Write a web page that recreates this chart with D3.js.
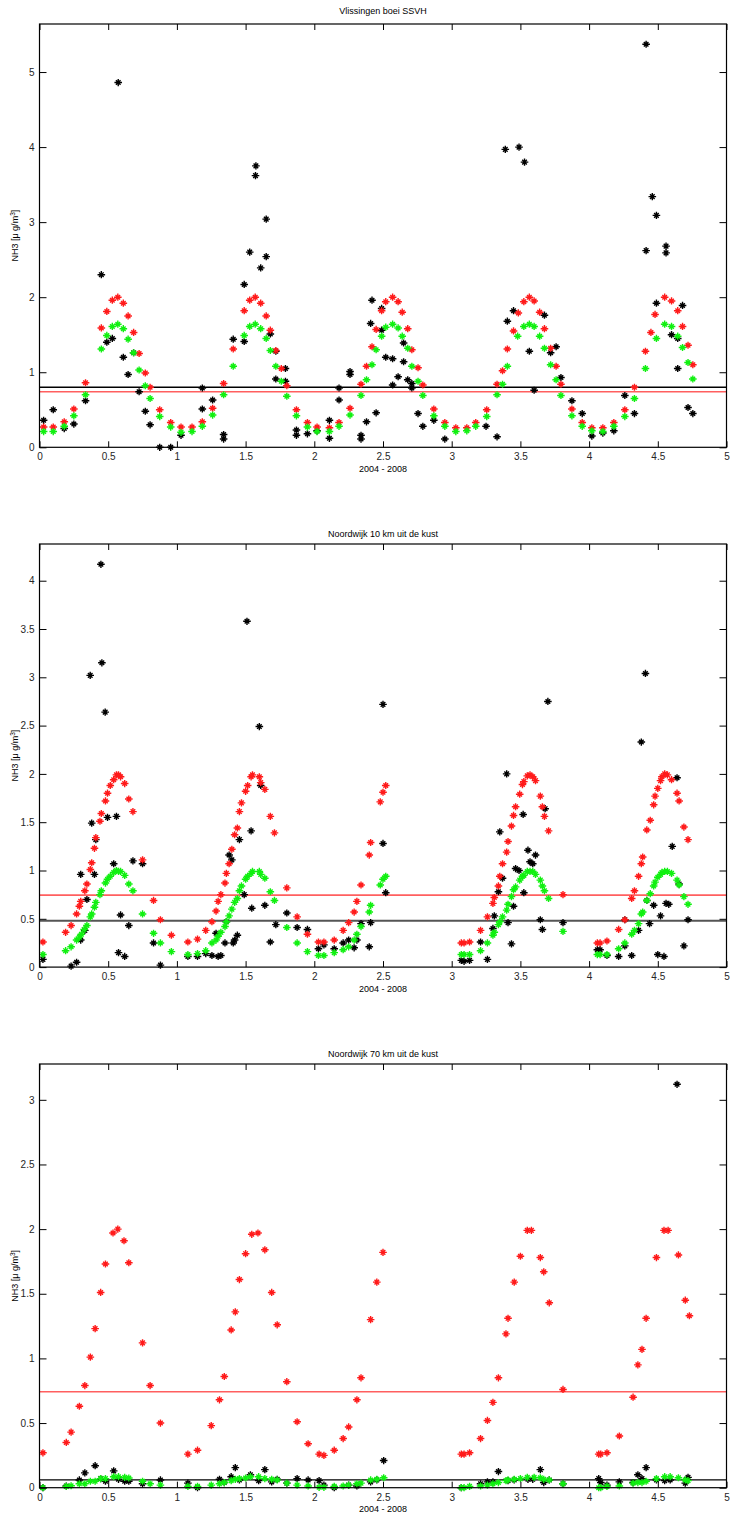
<!DOCTYPE html>
<html><head><meta charset="utf-8">
<script src="https://cdn.jsdelivr.net/npm/d3@7"></script>
<style>body{margin:0;background:#fff}svg{display:block}text{font-family:"Liberation Sans",Arial,sans-serif}</style>
</head><body>
<script>
// ---------- data ----------
const titles = ["Vlissingen boei SSVH", "Noordwijk 10 km uit de kust", "Noordwijk 70 km uit de kust"];
const xLabel = "2004 - 2008";
const xTicks = [0, 0.5, 1, 1.5, 2, 2.5, 3, 3.5, 4, 4.5, 5];
const yTicks1 = [0, 1, 2, 3, 4, 5];
const yTicks2 = [0, 0.5, 1, 1.5, 2, 2.5, 3, 3.5, 4];
const yTicks3 = [0, 0.5, 1, 1.5, 2, 2.5, 3];
const yMax = [5.64, 4.38, 3.277];
const refBlack = [0.80, 0.48, 0.06];
const refRed = [0.74, 0.745, 0.742];

const vlisRed = [[0.03,0.27],[0.10,0.27],[0.18,0.34],[0.25,0.51],[0.335,0.86],[0.45,1.59],[0.49,1.81],[0.53,1.96],[0.57,2.0],[0.61,1.92],[0.645,1.75],[0.685,1.53],[0.725,1.25],[0.77,0.99],[0.805,0.80],[0.875,0.50],[0.955,0.33],[1.03,0.27],[1.11,0.27],[1.185,0.34],[1.26,0.52],[1.34,0.85],[1.41,1.31],[1.49,1.82],[1.53,1.96],[1.57,2.0],[1.61,1.92],[1.65,1.75],[1.68,1.56],[1.72,1.29],[1.76,1.05],[1.80,0.82],[1.87,0.50],[1.95,0.33],[2.02,0.27],[2.11,0.26],[2.18,0.33],[2.26,0.52],[2.34,0.84],[2.38,1.08],[2.42,1.34],[2.45,1.57],[2.49,1.82],[2.52,1.94],[2.57,2.0],[2.61,1.94],[2.64,1.80],[2.68,1.58],[2.71,1.30],[2.755,1.06],[2.79,0.83],[2.87,0.51],[2.95,0.33],[3.03,0.26],[3.11,0.26],[3.175,0.33],[3.255,0.50],[3.33,0.84],[3.37,1.02],[3.405,1.31],[3.45,1.55],[3.485,1.79],[3.525,1.94],[3.565,2.0],[3.60,1.95],[3.64,1.80],[3.675,1.58],[3.72,1.32],[3.76,1.08],[3.795,0.84],[3.875,0.51],[3.95,0.33],[4.02,0.26],[4.10,0.26],[4.18,0.33],[4.26,0.50],[4.33,0.80],[4.41,1.28],[4.45,1.53],[4.48,1.77],[4.55,2.0],[4.60,1.95],[4.645,1.82],[4.68,1.61],[4.72,1.36],[4.755,1.10]];
const vlisGreen = [[0.03,0.21],[0.10,0.21],[0.18,0.28],[0.25,0.42],[0.335,0.70],[0.45,1.31],[0.49,1.49],[0.53,1.61],[0.57,1.64],[0.61,1.58],[0.645,1.44],[0.685,1.26],[0.725,1.03],[0.77,0.82],[0.805,0.65],[0.875,0.41],[0.955,0.27],[1.03,0.20],[1.11,0.21],[1.185,0.28],[1.26,0.43],[1.34,0.70],[1.41,1.08],[1.49,1.49],[1.53,1.61],[1.57,1.64],[1.61,1.58],[1.65,1.45],[1.68,1.29],[1.72,1.08],[1.76,0.88],[1.80,0.68],[1.87,0.42],[1.95,0.27],[2.02,0.21],[2.11,0.21],[2.18,0.28],[2.26,0.43],[2.34,0.69],[2.38,0.90],[2.42,1.10],[2.45,1.30],[2.49,1.48],[2.52,1.60],[2.57,1.64],[2.61,1.59],[2.64,1.48],[2.68,1.32],[2.71,1.08],[2.755,0.88],[2.79,0.69],[2.87,0.42],[2.95,0.28],[3.03,0.21],[3.11,0.22],[3.175,0.28],[3.255,0.41],[3.33,0.70],[3.37,0.84],[3.405,1.08],[3.48,1.48],[3.525,1.61],[3.565,1.64],[3.60,1.61],[3.64,1.48],[3.675,1.32],[3.72,1.10],[3.76,0.90],[3.795,0.69],[3.875,0.42],[3.95,0.28],[4.02,0.22],[4.10,0.21],[4.18,0.28],[4.26,0.41],[4.33,0.65],[4.41,1.05],[4.49,1.45],[4.55,1.64],[4.60,1.61],[4.645,1.48],[4.68,1.33],[4.72,1.13],[4.755,0.91]];
const vlisBlack = [[0.03,0.36],[0.10,0.50],[0.18,0.25],[0.25,0.31],[0.335,0.62],[0.45,2.30],[0.49,1.40],[0.53,1.45],[0.573,4.86],[0.61,1.20],[0.645,0.97],[0.685,1.26],[0.725,0.74],[0.77,0.48],[0.805,0.30],[0.875,0.0],[0.955,0.0],[1.03,0.16],[1.185,0.79],[1.185,0.51],[1.26,0.63],[1.34,0.17],[1.34,0.11],[1.41,1.44],[1.49,1.41],[1.49,2.17],[1.53,2.60],[1.575,3.75],[1.572,3.62],[1.61,2.39],[1.65,2.54],[1.65,3.04],[1.68,1.51],[1.72,1.28],[1.72,0.91],[1.79,0.88],[1.79,1.05],[1.87,0.23],[1.87,0.16],[1.95,0.18],[2.02,0.22],[2.11,0.36],[2.11,0.12],[2.18,0.79],[2.18,0.63],[2.26,1.01],[2.26,0.97],[2.34,0.16],[2.34,0.11],[2.38,0.34],[2.42,1.96],[2.41,1.65],[2.45,0.46],[2.49,1.85],[2.49,1.56],[2.52,1.20],[2.57,1.18],[2.57,0.83],[2.61,0.94],[2.65,1.14],[2.65,1.39],[2.68,0.90],[2.71,0.85],[2.71,0.79],[2.755,0.45],[2.79,0.28],[2.87,0.36],[2.95,0.11],[3.25,0.28],[3.33,0.14],[3.39,3.97],[3.49,4.0],[3.53,3.80],[3.405,1.68],[3.45,1.82],[3.565,1.28],[3.60,0.76],[3.675,1.76],[3.72,1.26],[3.76,1.34],[3.795,0.93],[3.875,0.62],[3.95,0.45],[4.02,0.15],[4.10,0.19],[4.18,0.22],[4.26,0.69],[4.33,0.45],[4.415,2.62],[4.415,5.37],[4.46,3.34],[4.49,3.09],[4.49,1.92],[4.56,2.68],[4.56,2.59],[4.60,1.50],[4.645,1.45],[4.68,1.89],[4.645,1.05],[4.72,0.53],[4.755,0.45]];

const nw10Red = [[0.025,0.26],[0.19,0.36],[0.23,0.43],[0.27,0.55],[0.29,0.63],[0.30,0.68],[0.33,0.79],[0.345,0.86],[0.37,1.01],[0.38,1.08],[0.40,1.23],[0.41,1.34],[0.44,1.51],[0.45,1.59],[0.48,1.72],[0.495,1.80],[0.515,1.88],[0.54,1.94],[0.56,1.99],[0.575,1.99],[0.59,1.97],[0.62,1.90],[0.65,1.74],[0.68,1.61],[0.75,1.11],[0.83,0.69],[0.88,0.49],[0.96,0.33],[1.08,0.26],[1.15,0.29],[1.21,0.38],[1.255,0.47],[1.285,0.58],[1.30,0.68],[1.32,0.75],[1.35,0.87],[1.36,0.97],[1.38,1.07],[1.40,1.22],[1.42,1.37],[1.44,1.44],[1.455,1.61],[1.47,1.70],[1.50,1.82],[1.515,1.88],[1.54,1.97],[1.55,1.99],[1.60,1.97],[1.61,1.91],[1.64,1.84],[1.68,1.56],[1.71,1.39],[1.80,0.82],[1.875,0.52],[1.95,0.34],[2.03,0.26],[2.07,0.26],[2.145,0.28],[2.21,0.38],[2.25,0.46],[2.29,0.57],[2.31,0.68],[2.34,0.85],[2.40,1.16],[2.41,1.29],[2.48,1.71],[2.50,1.81],[2.52,1.88],[3.07,0.25],[3.09,0.25],[3.13,0.26],[3.21,0.38],[3.26,0.52],[3.30,0.66],[3.31,0.72],[3.34,0.84],[3.35,0.94],[3.37,1.07],[3.40,1.19],[3.41,1.30],[3.435,1.46],[3.45,1.57],[3.465,1.66],[3.495,1.79],[3.515,1.89],[3.525,1.92],[3.55,1.98],[3.57,1.99],[3.59,1.97],[3.61,1.93],[3.645,1.77],[3.66,1.66],[3.675,1.56],[3.705,1.41],[3.81,0.75],[4.06,0.25],[4.08,0.25],[4.13,0.27],[4.215,0.39],[4.26,0.49],[4.31,0.71],[4.33,0.79],[4.36,0.94],[4.38,1.07],[4.39,1.14],[4.42,1.42],[4.445,1.52],[4.47,1.68],[4.48,1.77],[4.50,1.85],[4.52,1.93],[4.53,1.97],[4.55,2.0],[4.57,1.99],[4.60,1.94],[4.64,1.80],[4.655,1.72],[4.69,1.45],[4.72,1.32]];
const nw10Green = [[0.025,0.13],[0.19,0.17],[0.23,0.21],[0.27,0.28],[0.29,0.31],[0.305,0.34],[0.325,0.39],[0.345,0.43],[0.37,0.52],[0.38,0.55],[0.40,0.62],[0.41,0.67],[0.44,0.75],[0.45,0.79],[0.48,0.87],[0.495,0.91],[0.515,0.94],[0.54,0.98],[0.56,1.0],[0.575,0.99],[0.59,0.99],[0.62,0.95],[0.65,0.86],[0.68,0.79],[0.75,0.55],[0.83,0.35],[0.88,0.25],[0.96,0.16],[1.08,0.13],[1.15,0.14],[1.21,0.17],[1.255,0.25],[1.285,0.28],[1.30,0.32],[1.32,0.36],[1.35,0.42],[1.36,0.47],[1.38,0.53],[1.40,0.60],[1.42,0.67],[1.44,0.71],[1.455,0.79],[1.47,0.84],[1.50,0.91],[1.515,0.94],[1.54,0.97],[1.55,0.99],[1.60,0.99],[1.61,0.96],[1.64,0.92],[1.68,0.78],[1.71,0.69],[1.80,0.41],[1.875,0.25],[1.95,0.16],[2.03,0.12],[2.07,0.12],[2.145,0.15],[2.21,0.18],[2.25,0.21],[2.29,0.28],[2.31,0.34],[2.34,0.42],[2.40,0.57],[2.41,0.64],[2.48,0.85],[2.50,0.91],[2.52,0.94],[3.07,0.13],[3.09,0.13],[3.13,0.13],[3.21,0.17],[3.26,0.25],[3.30,0.33],[3.31,0.36],[3.34,0.44],[3.35,0.47],[3.37,0.52],[3.40,0.59],[3.41,0.65],[3.435,0.73],[3.45,0.80],[3.465,0.83],[3.495,0.90],[3.515,0.94],[3.525,0.95],[3.55,0.99],[3.57,0.99],[3.59,0.99],[3.61,0.96],[3.645,0.90],[3.66,0.84],[3.675,0.79],[3.705,0.71],[3.81,0.37],[4.06,0.13],[4.08,0.13],[4.13,0.13],[4.215,0.19],[4.26,0.25],[4.31,0.34],[4.33,0.38],[4.36,0.45],[4.38,0.55],[4.39,0.57],[4.42,0.69],[4.445,0.76],[4.47,0.84],[4.48,0.88],[4.50,0.93],[4.52,0.96],[4.53,0.98],[4.55,0.99],[4.57,0.99],[4.60,0.97],[4.64,0.90],[4.655,0.85],[4.69,0.73],[4.72,0.65]];
const nw10Black = [[0.025,0.08],[0.23,0.01],[0.27,0.05],[0.30,0.28],[0.30,0.96],[0.33,0.38],[0.345,0.70],[0.369,3.02],[0.38,1.49],[0.40,0.96],[0.41,1.32],[0.447,4.17],[0.454,3.15],[0.478,2.64],[0.495,1.55],[0.54,1.07],[0.56,1.56],[0.575,0.15],[0.62,0.11],[0.59,0.54],[0.65,0.43],[0.68,1.10],[0.75,1.07],[0.83,0.25],[0.88,0.02],[1.08,0.11],[1.15,0.11],[1.21,0.14],[1.255,0.12],[1.285,0.35],[1.30,0.11],[1.32,0.12],[1.35,0.25],[1.36,0.47],[1.38,1.16],[1.40,1.11],[1.41,0.25],[1.42,0.28],[1.44,0.33],[1.455,1.32],[1.49,0.75],[1.51,3.58],[1.54,1.41],[1.545,0.61],[1.60,2.49],[1.61,1.88],[1.64,0.64],[1.68,0.26],[1.72,0.44],[1.80,0.56],[1.875,0.41],[1.95,0.39],[2.03,0.19],[2.07,0.23],[2.145,0.19],[2.21,0.25],[2.25,0.28],[2.29,0.20],[2.31,0.28],[2.34,0.45],[2.40,0.21],[2.41,0.46],[2.50,1.28],[2.50,2.72],[2.52,0.77],[3.07,0.07],[3.09,0.06],[3.13,0.07],[3.21,0.26],[3.26,0.08],[3.30,0.40],[3.31,0.53],[3.34,0.78],[3.35,1.40],[3.37,0.92],[3.40,2.0],[3.41,0.46],[3.435,0.24],[3.45,0.63],[3.465,1.02],[3.49,1.0],[3.52,1.58],[3.525,0.77],[3.555,1.21],[3.57,1.09],[3.59,1.07],[3.61,1.16],[3.645,0.49],[3.66,0.39],[3.68,1.64],[3.70,2.75],[3.81,0.46],[4.06,0.18],[4.08,0.18],[4.13,0.12],[4.215,0.11],[4.26,0.49],[4.26,0.22],[4.31,0.12],[4.36,0.38],[4.38,2.33],[4.41,3.04],[4.42,0.69],[4.44,0.45],[4.47,0.64],[4.52,0.53],[4.50,0.13],[4.545,0.11],[4.56,0.66],[4.58,0.65],[4.605,1.25],[4.64,1.96],[4.655,0.86],[4.69,0.22],[4.72,0.49]];

const nw70Red = [[0.025,0.27],[0.195,0.35],[0.23,0.43],[0.29,0.63],[0.33,0.79],[0.37,1.01],[0.405,1.23],[0.445,1.51],[0.48,1.73],[0.535,1.97],[0.57,2.0],[0.615,1.91],[0.65,1.74],[0.75,1.12],[0.805,0.79],[0.88,0.50],[1.08,0.26],[1.15,0.29],[1.25,0.48],[1.31,0.68],[1.345,0.86],[1.395,1.22],[1.425,1.36],[1.455,1.61],[1.50,1.81],[1.545,1.96],[1.59,1.97],[1.64,1.84],[1.69,1.51],[1.73,1.26],[1.80,0.82],[1.875,0.51],[1.955,0.34],[2.035,0.26],[2.07,0.25],[2.145,0.29],[2.21,0.38],[2.25,0.47],[2.31,0.68],[2.34,0.85],[2.41,1.30],[2.455,1.59],[2.50,1.82],[3.07,0.26],[3.09,0.26],[3.13,0.27],[3.21,0.38],[3.26,0.52],[3.30,0.66],[3.34,0.85],[3.395,1.19],[3.41,1.31],[3.455,1.59],[3.50,1.79],[3.55,1.99],[3.58,1.99],[3.645,1.78],[3.67,1.67],[3.71,1.43],[3.81,0.76],[4.07,0.26],[4.085,0.26],[4.13,0.27],[4.22,0.40],[4.32,0.70],[4.355,0.95],[4.385,1.07],[4.415,1.31],[4.49,1.78],[4.545,1.99],[4.575,1.99],[4.65,1.80],[4.70,1.45],[4.73,1.33]];
const nw70Green = [[0.025,0.0],[0.195,0.01],[0.23,0.015],[0.29,0.03],[0.33,0.03],[0.37,0.05],[0.405,0.05],[0.445,0.07],[0.48,0.07],[0.54,0.085],[0.575,0.085],[0.62,0.08],[0.65,0.075],[0.75,0.05],[0.805,0.03],[0.88,0.02],[1.08,0.01],[1.15,0.01],[1.25,0.02],[1.31,0.03],[1.345,0.04],[1.395,0.055],[1.425,0.065],[1.455,0.07],[1.50,0.075],[1.535,0.085],[1.595,0.085],[1.64,0.07],[1.69,0.065],[1.73,0.06],[1.80,0.035],[1.875,0.02],[1.955,0.013],[2.035,0.003],[2.07,0.003],[2.145,0.01],[2.21,0.013],[2.25,0.02],[2.31,0.03],[2.34,0.035],[2.41,0.06],[2.455,0.065],[2.505,0.077],[3.07,0.0],[3.09,0.0],[3.13,0.01],[3.21,0.013],[3.26,0.02],[3.30,0.03],[3.34,0.04],[3.395,0.055],[3.41,0.06],[3.455,0.065],[3.50,0.07],[3.55,0.08],[3.60,0.08],[3.645,0.077],[3.67,0.065],[3.71,0.06],[3.81,0.03],[4.07,0.0],[4.085,0.0],[4.13,0.01],[4.22,0.013],[4.32,0.035],[4.355,0.04],[4.385,0.04],[4.415,0.05],[4.49,0.07],[4.55,0.085],[4.59,0.085],[4.65,0.077],[4.70,0.06],[4.72,0.055]];
const nw70Black = [[0.025,0.0],[0.195,0.013],[0.29,0.06],[0.33,0.115],[0.405,0.17],[0.445,0.07],[0.48,0.05],[0.54,0.13],[0.575,0.065],[0.62,0.05],[0.65,0.05],[0.75,0.03],[0.88,0.06],[1.08,0.035],[1.15,0.0],[1.31,0.065],[1.345,0.04],[1.395,0.085],[1.425,0.155],[1.455,0.06],[1.535,0.10],[1.595,0.055],[1.64,0.14],[1.69,0.045],[1.73,0.065],[1.80,0.035],[1.875,0.07],[1.955,0.06],[2.035,0.055],[2.07,0.02],[2.145,0.0],[2.25,0.02],[2.31,0.013],[2.41,0.045],[2.455,0.06],[2.505,0.21],[3.07,0.0],[3.21,0.03],[3.26,0.045],[3.30,0.045],[3.34,0.125],[3.41,0.055],[3.455,0.06],[3.555,0.065],[3.59,0.065],[3.645,0.14],[3.67,0.04],[3.71,0.06],[3.81,0.03],[4.07,0.07],[4.085,0.04],[4.13,0.02],[4.22,0.045],[4.32,0.04],[4.355,0.10],[4.385,0.07],[4.415,0.155],[4.49,0.06],[4.55,0.055],[4.59,0.06],[4.64,3.12],[4.70,0.035],[4.72,0.08]];

// ---------- drawing ----------
const W = 731, H = 1515;
const svg = d3.select("body").append("svg").attr("width", W).attr("height", H);
const panels = [
  {top: 24, bottom: 447.3, ymax: yMax[0], yTicks: yTicks1, red: vlisRed, green: vlisGreen, black: vlisBlack, titleY: 14, blackLine: "#000", blackW: 1.3},
  {top: 544, bottom: 967.1, ymax: yMax[1], yTicks: yTicks2, red: nw10Red, green: nw10Green, black: nw10Black, titleY: 537, blackLine: "#555", blackW: 1.8},
  {top: 1064, bottom: 1487.7, ymax: yMax[2], yTicks: yTicks3, red: nw70Red, green: nw70Green, black: nw70Black, titleY: 1057, blackLine: "#000", blackW: 1.2}
];
const x = d3.scaleLinear().domain([0, 5]).range([39.5, 726.5]);
const marker = "M-3.8,0H3.8M0,-3.6V3.6M-2.3,-2.3L2.3,2.3M-2.3,2.3L2.3,-2.3";

panels.forEach((p, i) => {
  const y = d3.scaleLinear().domain([0, p.ymax]).range([p.bottom, p.top]);
  const g = svg.append("g");
  // reference lines
  g.append("line").attr("x1", x(0)).attr("x2", x(5)).attr("y1", y(refBlack[i])).attr("y2", y(refBlack[i]))
    .attr("stroke", p.blackLine).attr("stroke-width", p.blackW);
  g.append("line").attr("x1", x(0)).attr("x2", x(5)).attr("y1", y(refRed[i])).attr("y2", y(refRed[i]))
    .attr("stroke", "#ff5f5f").attr("stroke-width", 1.7);
  const drawSeries = (data, col) => {
    g.append("g").selectAll("path").data(data).join("path")
      .attr("d", marker)
      .attr("transform", d => `translate(${x(d[0])},${y(d[1])})`)
      .attr("stroke", col).attr("stroke-width", 1.4).attr("fill", "none");
  };
  drawSeries(p.black, "#000");
  drawSeries(p.red, "#ff1a1a");
  drawSeries(p.green, "#10f010");

  // axes (MATLAB-style box with inward ticks)
  const axB = d3.axisBottom(x).tickValues(xTicks).tickSizeInner(-6).tickSizeOuter(0).tickPadding(6).tickFormat(d3.format("~g"));
  const axT = d3.axisTop(x).tickValues(xTicks).tickSizeInner(-6).tickSizeOuter(0).tickFormat("");
  const axL = d3.axisLeft(y).tickValues(p.yTicks).tickSizeInner(-7).tickSizeOuter(0).tickPadding(5).tickFormat(d3.format("~g"));
  const axR = d3.axisRight(y).tickValues(p.yTicks).tickSizeInner(-7).tickSizeOuter(0).tickFormat("");
  const styleAx = sel => {
    sel.select(".domain").remove();
    sel.selectAll("line").attr("stroke", "#000").attr("stroke-width", 1);
    sel.selectAll("text").attr("fill", "#262626").style("font-size", "10px");
  };
  g.append("g").attr("transform", `translate(0,${p.bottom})`).call(axB).call(styleAx);
  g.append("g").attr("transform", `translate(0,${p.top})`).call(axT).call(styleAx);
  g.append("g").attr("transform", `translate(${x(0)},0)`).call(axL).call(styleAx);
  g.append("g").attr("transform", `translate(${x(5)},0)`).call(axR).call(styleAx);
  g.append("rect").attr("x", x(0)).attr("y", p.top).attr("width", x(5) - x(0)).attr("height", p.bottom - p.top)
    .attr("fill", "none").attr("stroke", "#000").attr("stroke-width", 1.2);

  // title
  g.append("text").attr("x", (x(0) + x(5)) / 2).attr("y", p.titleY).attr("text-anchor", "middle")
    .style("font-size", "9px").attr("fill", "#000").text(titles[i]);
  // x label
  g.append("text").attr("x", (x(0) + x(5)) / 2).attr("y", p.bottom + 24.5).attr("text-anchor", "middle")
    .style("font-size", "9px").attr("fill", "#000").text(xLabel);
  // y label
  const yl = g.append("text").attr("transform", `translate(18,${(p.top + p.bottom) / 2}) rotate(-90)`)
    .attr("text-anchor", "middle").style("font-size", "9px").attr("fill", "#000");
  yl.append("tspan").text("NH3 [\u03BC g/m");
  yl.append("tspan").attr("baseline-shift", "super").style("font-size", "6.5px").text("3");
  yl.append("tspan").text("]");
});
</script>
</body></html>
